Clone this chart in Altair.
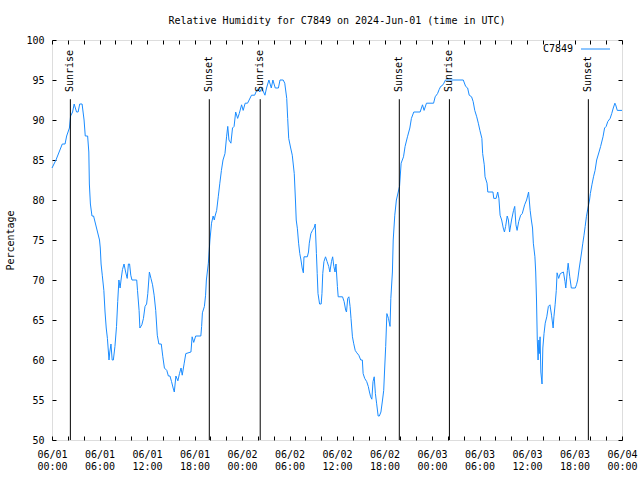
import altair as alt
import pandas as pd

SERIES = "C7849"
TITLE = "Relative Humidity for C7849 on 2024-Jun-01 (time in UTC)"
Y_TITLE = "Percentage"
LINE_COLOR = "#1a8cff"
FONT = "DejaVu Sans Mono"

# hours since 2024-06-01 00:00 UTC
hours = [
    0.0, 0.25, 0.5, 0.9, 1.3, 1.65, 1.85, 2.2, 2.35, 2.6, 2.8, 3.1, 3.3, 3.5, 3.8, 4.05,
    4.2, 4.5, 4.65, 4.72, 4.85, 5.05, 5.25, 5.5, 5.75, 6.0, 6.1, 6.2, 6.35, 6.55, 6.7, 6.85,
    7.0, 7.2, 7.3, 7.45, 7.6, 7.75, 7.95, 8.15, 8.3, 8.45, 8.6, 8.72, 8.9, 9.1, 9.3, 9.5,
    9.65, 9.8, 9.95, 10.1, 10.7, 10.8, 11.0, 11.1, 11.35, 11.55, 11.75, 11.95, 12.1, 12.3,
    12.5, 12.7, 12.9, 13.1, 13.3, 13.5, 13.8, 14.0, 14.2, 14.5, 14.7, 14.9, 15.1, 15.3,
    15.45, 15.65, 15.9, 16.1, 16.3, 16.45, 16.7, 16.9, 17.55, 17.7, 17.9, 18.15, 18.8,
    18.9, 19.0, 19.25, 19.4, 19.5, 19.75, 19.95, 20.15, 20.35, 20.5, 20.6, 20.8, 21.0,
    21.2, 21.4, 21.6, 21.85, 22.05, 22.2, 22.35, 22.6, 22.8, 23.0, 23.2, 23.45, 23.65,
    23.95, 24.15, 24.4, 24.7, 24.9, 25.2, 25.6, 25.85, 26.0, 26.25, 26.5, 26.9, 27.1,
    27.4, 27.7, 27.9, 28.2, 28.6, 28.8, 29.2, 29.4, 29.65, 29.77, 29.9, 30.15, 30.35,
    30.6, 30.75, 30.85, 31.0, 31.15, 31.3, 31.45, 31.6, 31.75, 31.83, 32.25, 32.4, 32.5,
    32.7, 32.9, 33.1, 33.25, 33.4, 33.5, 33.6, 33.8, 34.0, 34.1, 34.2, 34.35, 34.55,
    34.75, 34.95, 35.1, 35.3, 35.45, 35.6, 35.75, 35.87, 36.05, 36.15, 36.7, 36.9, 37.1,
    37.2, 37.35, 37.5, 37.65, 37.77, 37.95, 38.1, 38.3, 38.5, 38.75, 39.0, 39.2, 39.3,
    39.5, 39.75, 39.95, 40.1, 40.25, 40.4, 40.55, 40.7, 40.85, 41.0, 41.2, 41.35, 41.55,
    41.75, 41.9, 42.0, 42.15, 42.3, 42.5, 42.7, 42.8, 43.0, 43.1, 43.3, 43.5, 43.9, 44.1,
    44.4, 44.6, 44.9, 45.2, 45.4, 45.7, 46.5, 46.8, 47.0, 47.3, 48.2, 48.4, 48.7, 48.9,
    49.1, 49.3, 49.5, 49.7, 51.95, 52.25, 52.5, 52.7, 53.0, 53.2, 53.4, 53.65, 53.85,
    54.05, 54.3, 54.4, 54.6, 54.7, 54.95, 55.05, 55.7, 55.8, 56.1, 56.3, 56.45, 56.6,
    56.8, 57.0, 57.15, 57.3, 57.5, 57.65, 57.8, 58.05, 58.3, 58.45, 58.6, 58.75, 58.95,
    59.2, 59.4, 59.7, 59.95, 60.2, 60.4, 60.55, 60.7, 60.8, 61.0, 61.1, 61.2, 61.3, 61.4,
    61.5, 61.55, 61.65, 61.75, 61.9, 62.0, 62.15, 62.3, 62.5, 62.7, 62.9, 63.1, 63.3,
    63.4, 63.55, 63.7, 63.8, 64.0, 64.2, 64.6, 64.8, 64.9, 65.1, 65.2, 65.4, 65.6, 66.1,
    66.25, 66.4, 66.6, 66.75, 66.9, 67.05, 67.2, 67.35, 67.5, 67.7, 67.9, 68.0, 68.2,
    68.4, 68.6, 68.8, 69.1, 69.3, 69.6, 69.8, 70.0, 70.2, 70.5, 70.7, 70.9, 71.1, 71.2,
    71.4, 72.0,
]

humidity = [
    84, 84.5, 85, 86, 87, 87, 88, 89, 90.5, 91, 92, 91, 91, 92, 92, 90,
    88, 88, 86, 82, 79.5, 78, 78, 77, 76, 75, 74, 72, 70.6, 68.7, 66, 64,
    62.7, 60, 61, 62, 60, 60, 61.7, 64.2, 67.3, 70, 69, 70, 71.3, 72, 71, 70.2,
    72, 72, 70.6, 70, 70, 68.7, 66.2, 64, 64.4, 65.2, 66.7, 67, 68.3, 71,
    70.2, 69.4, 68.1, 66.2, 63.1, 62, 62, 60.4, 59, 58.7, 58, 58, 57.3, 56.5,
    56, 58, 57.4, 58.3, 59, 58.1, 59.6, 60.8, 61, 62.9, 62.2, 63, 63,
    64.2, 65.9, 66.7, 68.1, 70, 72.1, 75, 77.1, 78, 77.5, 78, 78.7, 80.4,
    82.1, 83.7, 85, 85.8, 87.9, 89.2, 87.5, 87.1, 89, 89.2, 91, 90.2, 90.8,
    91.9, 91.2, 92.1, 92.1, 92.5, 93.1, 93.1, 93.7, 93.9, 93.5, 94, 93.1, 94,
    95, 94, 95, 94, 94, 95, 95, 94.6, 92.7, 90.2, 87.7, 86.5, 85.6,
    83.3, 80, 77.5, 76.4, 74.6, 73.3, 72.5, 71.5, 70.9, 72.9, 72.9, 73.5, 74.6,
    75.8, 76.2, 76.5, 77, 73.3, 70.8, 68.3, 67, 67, 68.3, 70.8, 72.3, 72.9,
    72.3, 71.7, 71, 72.3, 72.9, 71.7, 71, 72, 69.2, 67.9, 67.9, 67.3, 66.2,
    66, 67.7, 67.9, 66.7, 65.2, 62.9, 62.1, 61.2, 60.9, 60.6, 60, 60, 58.3,
    57.7, 57.3, 56.7, 56, 55.4, 55.1, 57.3, 57.9, 55.8, 54.6, 53, 53, 53.5,
    55, 56.2, 58.5, 61.7, 65.8, 65.2, 64.2, 67.7, 71, 75, 78.1, 80, 81.7, 84.6,
    85.4, 86.7, 87.9, 89, 90.2, 91, 91, 91.9, 91.2, 92.1, 92.1, 92.9, 93.3, 93.8,
    94.2, 94.3, 94.6, 95, 95, 94.2, 94, 93.1, 92.9, 92.3, 91.2, 90.4, 89.6,
    88.7, 87.7, 85.8, 84.4, 82.9, 82.1, 81, 81, 80.2, 80.2, 81, 80.2, 78.1,
    77.5, 76.5, 76, 76.7, 78, 77.5, 76, 77.5, 78.7, 79.2, 76.9, 76.2, 77.3,
    78.1, 78.3, 79.4, 80, 81, 78.7, 77.5, 76.5, 74.6, 72.9, 71, 67.5, 62.5, 60,
    62.5, 60.8, 62.9, 58.5, 57, 61.5, 63.3, 64.6, 65.4, 66.7, 66.9, 65.6, 64,
    65.4, 66.9, 68.7, 70.9, 70.2, 70.8, 71, 69.8, 69, 71.2, 72.1, 70.4, 69, 69,
    69.4, 70, 71.5, 72.5, 73.5, 74.6, 75.6, 76.7, 77.9, 79, 80, 80.8, 81.9,
    82.9, 83.7, 85, 86, 86.7, 87.9, 89, 89.2, 89.8, 90.2, 90.8, 91.5, 92.1, 91.9,
    91.2, 91.2,
]

event_hours = [2.32, 19.87, 26.3, 43.87, 50.2, 67.75]
event_labels = ["Sunrise", "Sunset", "Sunrise", "Sunset", "Sunrise", "Sunset"]

x_ticks = list(range(0, 73, 2))
y_ticks = list(range(50, 101, 5))

df = pd.DataFrame({"hour": hours, "rh": humidity})
ev = pd.DataFrame({"hour": event_hours, "label": event_labels})

xscale = alt.Scale(domain=[0, 72], nice=False, zero=False)
yscale = alt.Scale(domain=[50, 100], nice=False, zero=False)

label_expr = (
    "datum.value % 6 != 0 ? '' : "
    "['06/0' + (floor(datum.value / 24) + 1), "
    "((datum.value % 24) < 10 ? '0' : '') + (datum.value % 24) + ':00']"
)

line = alt.Chart(df).mark_line(color=LINE_COLOR, strokeWidth=1).encode(
    x=alt.X("hour:Q", scale=xscale, axis=alt.Axis(
        orient="bottom", values=x_ticks, labelExpr=label_expr, title=None,
        offset=-4, tickSize=4, domain=False, grid=False, labelPadding=9,
        labelOverlap=False, labelFlush=False, labelLineHeight=12,
        labelFont=FONT, labelFontSize=10, labelColor="black", tickColor="black")),
    y=alt.Y("rh:Q", scale=yscale, axis=alt.Axis(
        orient="left", values=y_ticks, title=Y_TITLE, offset=-4, tickSize=4,
        domain=False, grid=False, labelPadding=8, labelFont=FONT,
        labelFontSize=10, labelColor="black", tickColor="black",
        titleFont=FONT, titleFontSize=10, titleFontWeight="normal",
        titleColor="black", titlePadding=10)),
)

rules = alt.Chart(ev).mark_rule(color="black", strokeWidth=1).encode(
    x=alt.X("hour:Q", scale=xscale, axis=alt.Axis(
        orient="top", values=x_ticks, labels=False, title=None, offset=-4,
        tickSize=4, domain=False, grid=False, tickColor="black")),
    y=alt.YDatum(50, scale=yscale, axis=alt.Axis(
        orient="right", values=y_ticks, labels=False, title=None, offset=-4,
        tickSize=4, domain=False, grid=False, tickColor="black")),
    y2=alt.datum(92.6),
)

labels = alt.Chart(ev).mark_text(
    angle=270, align="left", baseline="middle", font=FONT, fontSize=10, color="black"
).encode(
    x=alt.X("hour:Q", scale=xscale, axis=None),
    y=alt.YDatum(93.5, scale=yscale, axis=None),
    text="label:N",
)

legend_text = alt.Chart(pd.DataFrame({"name": [SERIES]})).mark_text(
    align="right", baseline="middle", font=FONT, fontSize=10, color="black"
).encode(x=alt.value(521), y=alt.value(9), text="name:N")

legend_line = alt.Chart(pd.DataFrame({"name": [SERIES]})).mark_rule(
    color=LINE_COLOR, strokeWidth=1
).encode(x=alt.value(529), x2=alt.value(558), y=alt.value(9))

chart = alt.layer(line, rules, labels, legend_text, legend_line).resolve_axis(
    x="independent", y="independent"
).properties(
    width=570, height=400,
    padding={"left": 52, "top": 40, "right": 18, "bottom": 40},
    autosize="none",
    title=alt.Title(TITLE, font=FONT, fontSize=10, fontWeight="normal",
                    color="black", anchor="middle", offset=9),
).configure_view(stroke="black", strokeWidth=1).configure(background="white")

chart.save("out.html", embed_options={"renderer": "svg", "actions": False})
